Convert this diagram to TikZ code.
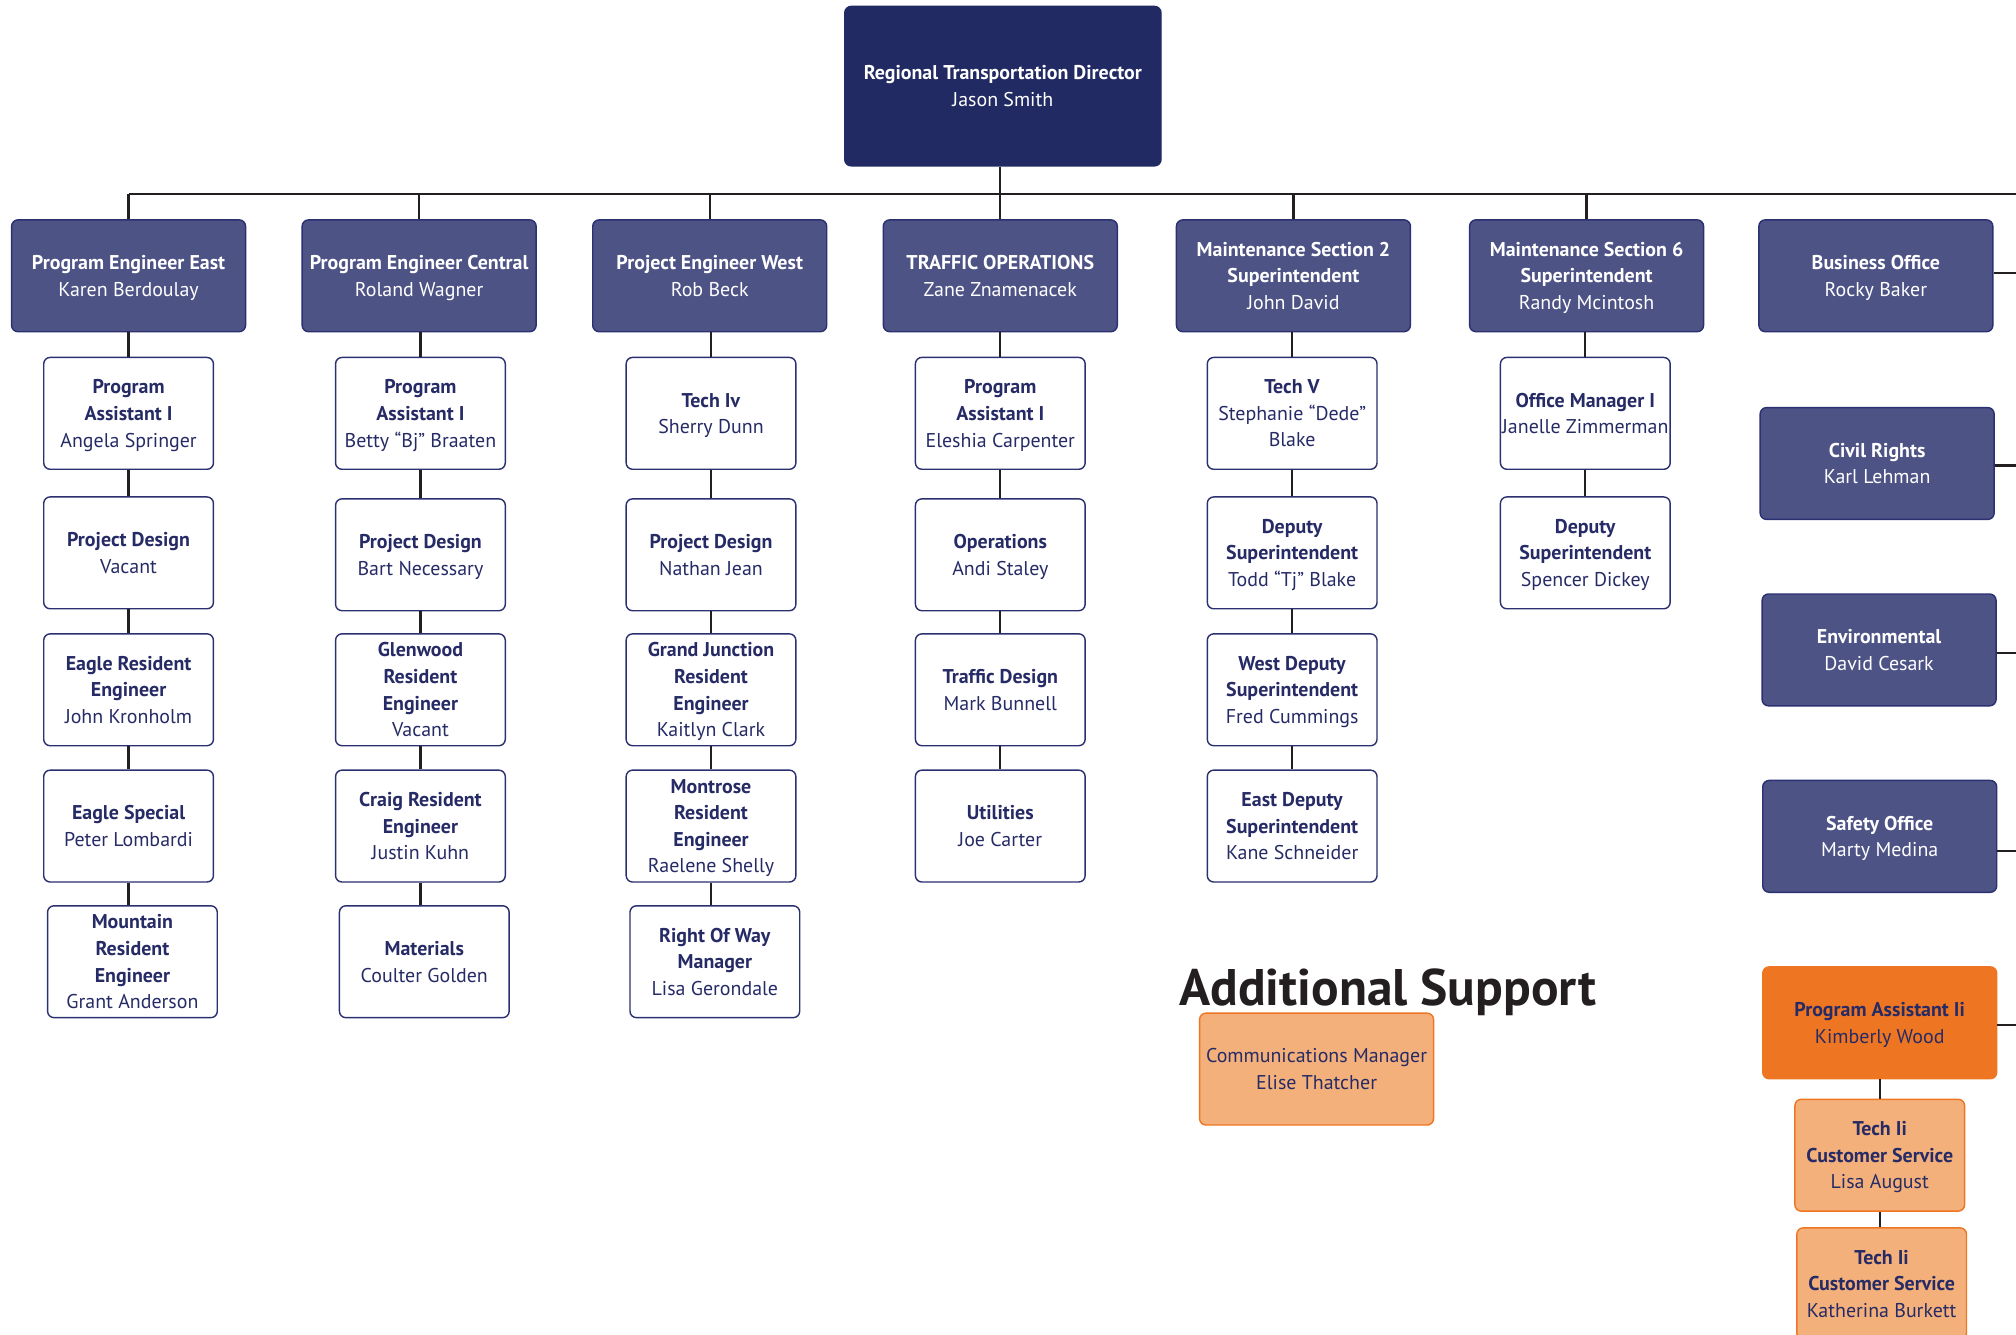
\documentclass[tikz,border=0pt]{standalone}
\usepackage{fontspec}
\setmainfont{PT Sans}
\definecolor{navy}{HTML}{212A63}
\definecolor{slate}{HTML}{4E5386}
\definecolor{slateb}{HTML}{2A3070}
\definecolor{ink}{HTML}{262B66}
\definecolor{orng}{HTML}{EE7623}
\definecolor{lorng}{HTML}{F4B07A}
\definecolor{wire}{HTML}{231F20}
\newcommand{\B}[1]{\textbf{#1}}
\tikzset{
  box/.style={rounded corners=5pt, line width=1.1pt, align=center, inner sep=0pt,
    text depth=0pt, font=\fontsize{15.5}{20.7}\selectfont},
  topbox/.style={box, fill=navy, draw=navy, text=white, minimum width=246pt, minimum height=124pt},
  headbox/.style={box, fill=slate, draw=slateb, text=white, minimum width=182pt, minimum height=87pt},
  childbox/.style={box, fill=white, draw=slateb, text=ink, minimum width=132pt, minimum height=87pt},
  orbox/.style={box, fill=orng, draw=orng, text=ink, minimum width=182pt, minimum height=87pt},
  lorbox/.style={box, fill=lorng, draw=orng, text=ink, minimum width=132pt, minimum height=87pt},
  wireline/.style={draw=wire, line width=1.8pt}
}
\begin{document}
\begin{tikzpicture}[x=1pt,y=-1pt]
\useasboundingbox (0,0) rectangle (1568,1038);
\coordinate (busL) at (100,151);
\coordinate (redge) at (1575,151);

% top
\node[topbox] (top) at (780,67) {\B{Regional Transportation Director}\\Jason Smith};

% heads
\node[headbox] (h1) at (100,214.5) {\B{Program Engineer East}\\Karen Berdoulay};
\node[headbox] (h2) at (326,214.5) {\B{Program Engineer Central}\\Roland Wagner};
\node[headbox] (h3) at (552,214.5) {\B{Project Engineer West}\\Rob Beck};
\node[headbox] (h4) at (778,214.5) {\B{TRAFFIC OPERATIONS}\\Zane Znamenacek};
\node[headbox] (h5) at (1006,214.5) {\B{Maintenance Section 2}\\\B{Superintendent}\\John David};
\node[headbox] (h6) at (1234,214.5) {\B{Maintenance Section 6}\\\B{Superintendent}\\Randy Mcintosh};
\node[headbox] (h7) at (1459,214.5) {\B{Business Office}\\Rocky Baker};

% right column
\node[headbox] (r1) at (1460,360.5) {\B{Civil Rights}\\Karl Lehman};
\node[headbox] (r2) at (1461.5,505.5) {\B{Environmental}\\David Cesark};
\node[headbox] (r3) at (1462,650.5) {\B{Safety Office}\\Marty Medina};
\node[orbox] (r4) at (1462,795.5) {\B{Program Assistant Ii}\\Kimberly Wood};
\node[lorbox] (r5) at (1462,898.5) {\B{Tech Ii}\\\B{Customer Service}\\Lisa August};
\node[lorbox] (r6) at (1463.5,998.5) {\B{Tech Ii}\\\B{Customer Service}\\Katherina Burkett};

% column 1
\node[childbox] (c1a) at (100,321.5) {\B{Program}\\\B{Assistant I}\\Angela Springer};
\node[childbox] (c1b) at (100,430) {\B{Project Design}\\Vacant};
\node[childbox] (c1c) at (100,536.5) {\B{Eagle Resident}\\\B{Engineer}\\John Kronholm};
\node[childbox] (c1d) at (100,642.5) {\B{Eagle Special}\\Peter Lombardi};
\node[childbox] (c1e) at (103,748) {\B{Mountain}\\\B{Resident}\\\B{Engineer}\\Grant Anderson};

% column 2
\node[childbox] (c2a) at (327,321.5) {\B{Program}\\\B{Assistant I}\\Betty “Bj” Braaten};
\node[childbox] (c2b) at (327,431.5) {\B{Project Design}\\Bart Necessary};
\node[childbox] (c2c) at (327,536.5) {\B{Glenwood}\\\B{Resident}\\\B{Engineer}\\Vacant};
\node[childbox] (c2d) at (327,642.5) {\B{Craig Resident}\\\B{Engineer}\\Justin Kuhn};
\node[childbox] (c2e) at (330,748) {\B{Materials}\\Coulter Golden};

% column 3
\node[childbox] (c3a) at (553,321.5) {\B{Tech Iv}\\Sherry Dunn};
\node[childbox] (c3b) at (553,431.5) {\B{Project Design}\\Nathan Jean};
\node[childbox] (c3c) at (553,536.5) {\B{Grand Junction}\\\B{Resident}\\\B{Engineer}\\Kaitlyn Clark};
\node[childbox] (c3d) at (553,642.5) {\B{Montrose}\\\B{Resident}\\\B{Engineer}\\Raelene Shelly};
\node[childbox] (c3e) at (556,748) {\B{Right Of Way}\\\B{Manager}\\Lisa Gerondale};

% column 4
\node[childbox] (c4a) at (778,321.5) {\B{Program}\\\B{Assistant I}\\Eleshia Carpenter};
\node[childbox] (c4b) at (778,431.5) {\B{Operations}\\Andi Staley};
\node[childbox] (c4c) at (778,536.5) {\B{Traffic Design}\\Mark Bunnell};
\node[childbox] (c4d) at (778,642.5) {\B{Utilities}\\Joe Carter};

% column 5
\node[childbox] (c5a) at (1005,321.5) {\B{Tech V}\\Stephanie “Dede”\\Blake};
\node[childbox] (c5b) at (1005,430) {\B{Deputy}\\\B{Superintendent}\\Todd “Tj” Blake};
\node[childbox] (c5c) at (1005,536.5) {\B{West Deputy}\\\B{Superintendent}\\Fred Cummings};
\node[childbox] (c5d) at (1005,642.5) {\B{East Deputy}\\\B{Superintendent}\\Kane Schneider};

% column 6
\node[childbox] (c6a) at (1233,321.5) {\B{Office Manager I}\\Janelle Zimmerman};
\node[childbox] (c6b) at (1233,430) {\B{Deputy}\\\B{Superintendent}\\Spencer Dickey};

% additional support
\node[anchor=base west, inner sep=0pt, text=wire, font=\fontsize{40}{44}\selectfont\bfseries] (addl) at (917,782) {Additional Support};
\node[lorbox, text=ink, minimum width=182pt] (comm) at (1024,831.5) {Communications Manager\\Elise Thatcher};

% connectors
\draw[wireline] (busL) -- (redge);
\draw[wireline] (top.south -| h4.north) -- (h4.north);
\foreach \h in {h1,h2,h3,h5,h6}{
  \draw[wireline] (\h.north |- busL) -- (\h.north);
}
\foreach \h/\c in {h1/c1a,h2/c2a,h3/c3a,h4/c4a,h5/c5a,h6/c6a}{
  \draw[wireline] (\h.south -| \c.north) -- (\c.north);
}
\foreach \a/\b in {c1a/c1b,c1b/c1c,c1c/c1d,c1d/c1e,
                   c2a/c2b,c2b/c2c,c2c/c2d,c2d/c2e,
                   c3a/c3b,c3b/c3c,c3c/c3d,c3d/c3e,
                   c4a/c4b,c4b/c4c,c4c/c4d,
                   c5a/c5b,c5b/c5c,c5c/c5d,
                   c6a/c6b}{
  \draw[wireline] (\a.south) -- (\a.south |- \b.north);
}
\draw[wireline] ([yshift=2pt]h7.east) -- ([yshift=2pt]h7.east -| redge);
\draw[wireline] ([yshift=-1.5pt]r1.east) -- ([yshift=-1.5pt]r1.east -| redge);
\draw[wireline] ([yshift=-2.5pt]r2.east) -- ([yshift=-2.5pt]r2.east -| redge);
\draw[wireline] ([yshift=-11.5pt]r3.east) -- ([yshift=-11.5pt]r3.east -| redge);
\draw[wireline] ([yshift=-1.5pt]r4.east) -- ([yshift=-1.5pt]r4.east -| redge);
\draw[wireline] (r4.south) -- (r4.south |- r5.north);
\draw[wireline] (r5.south) -- (r5.south |- r6.north);
\end{tikzpicture}
\end{document}
